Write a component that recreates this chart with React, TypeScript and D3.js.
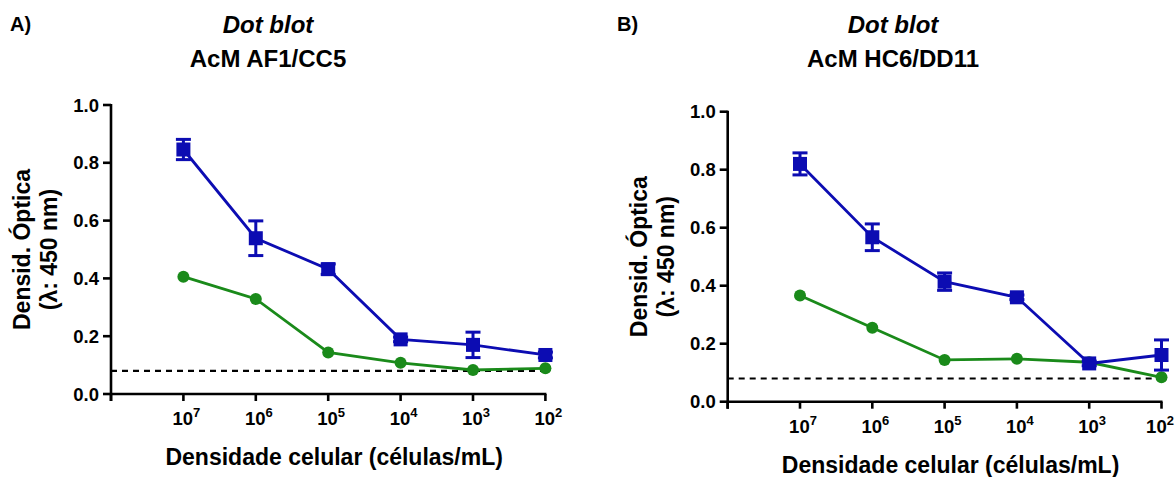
import React from 'react';
import * as d3 from 'd3';

// Cell density dilutions, shown as 10^n on the x axis
const densityExponents = ['7', '6', '5', '4', '3', '2'];
const yTickValues = [0, 0.2, 0.4, 0.6, 0.8, 1.0];

// AcM AF1/CC5
const af1Positive = [0.846, 0.539, 0.432, 0.189, 0.17, 0.135];
const af1PositiveErr = [0.035, 0.06, 0.018, 0.008, 0.044, 0.01];
const af1Negative = [0.406, 0.329, 0.144, 0.108, 0.083, 0.089];
const af1Cutoff = 0.08;

// AcM HC6/DD11
const hc6Positive = [0.82, 0.567, 0.414, 0.36, 0.132, 0.161];
const hc6PositiveErr = [0.038, 0.046, 0.03, 0.008, 0.008, 0.052];
const hc6Negative = [0.366, 0.255, 0.144, 0.148, 0.136, 0.084];
const hc6Cutoff = 0.08;

const FONT = "'Liberation Sans', Arial, Helvetica, sans-serif";
const BLUE = '#0c0cb2';
const GREEN = '#1a8a1a';
const WIDTH = 1176;

type PanelProps = {
  tag: string;
  tagX: number;
  title: string;
  titleX: number;
  left: number;
  top: number;
  bottom: number;
  step: number;
  positive: number[];
  positiveErr: number[];
  negative: number[];
  cutoff: number;
};

function Panel(p: PanelProps) {
  const n = densityExponents.length;
  const x = d3.scaleLinear().domain([0, n]).range([p.left, p.left + p.step * n]);
  const y = d3.scaleLinear().domain([0, 1]).range([p.bottom, p.top]);
  const line = d3
    .line<number>()
    .x((_, i) => x(i + 1))
    .y((d) => y(d));
  const xTicks = d3.range(0, n + 1);
  const mid = (y(0) + y(1)) / 2;
  const sq = 14;
  const cap = 7.5;

  return (
    <g fontFamily={FONT} fontWeight="bold" fill="#000">
      <text x={p.tagX} y={31} fontSize={20}>{p.tag}</text>
      <text x={p.titleX} y={33} fontSize={24} fontStyle="italic" textAnchor="middle">Dot blot</text>
      <text x={p.titleX} y={67} fontSize={24} textAnchor="middle">{p.title}</text>

      {/* cutoff line */}
      <line x1={x(0)} x2={x(n)} y1={y(p.cutoff)} y2={y(p.cutoff)} stroke="#000" strokeWidth={2.2} strokeDasharray="6,5" />

      {/* y axis */}
      <line x1={x(0)} x2={x(0)} y1={y(1) - 1} y2={y(0) + 7} stroke="#000" strokeWidth={2.6} />
      {yTickValues.map((v) => (
        <g key={v}>
          <line x1={x(0) - 8} x2={x(0)} y1={y(v)} y2={y(v)} stroke="#000" strokeWidth={2.6} />
          <text x={x(0) - 12} y={y(v)} dy="0.36em" fontSize={18.5} textAnchor="end">{d3.format('.1f')(v)}</text>
        </g>
      ))}

      {/* x axis */}
      <line x1={x(0)} x2={x(n) + 1} y1={y(0)} y2={y(0)} stroke="#000" strokeWidth={2.6} />
      {xTicks.map((t) => (
        <line key={t} x1={x(t)} x2={x(t)} y1={y(0)} y2={y(0) + 7} stroke="#000" strokeWidth={2.6} />
      ))}
      {densityExponents.map((e, i) => {
        const cx = Math.min(x(i + 1) + 3, WIDTH - 16);
        return (
          <text key={e} x={cx} y={y(0) + 31} fontSize={18.5} textAnchor="middle">
            10<tspan dy={-8} fontSize={13}>{e}</tspan>
          </text>
        );
      })}

      <text x={x(n / 2) + 6} y={y(0) + 71} fontSize={23} textAnchor="middle">Densidade celular (células/mL)</text>

      <g transform={`translate(${x(0) - 81},${mid}) rotate(-90)`}>
        <text x={0} y={0} fontSize={23} textAnchor="middle">Densid. Óptica</text>
        <text x={0} y={27} fontSize={23} textAnchor="middle">(λ: 450 nm)</text>
      </g>

      {/* negative series */}
      <path d={line(p.negative) || ''} fill="none" stroke={GREEN} strokeWidth={2.8} />
      {p.negative.map((v, i) => (
        <circle key={i} cx={x(i + 1)} cy={y(v)} r={6} fill={GREEN} />
      ))}

      {/* positive series with error bars */}
      <path d={line(p.positive) || ''} fill="none" stroke={BLUE} strokeWidth={2.8} />
      {p.positive.map((v, i) => {
        const e = p.positiveErr[i];
        const cx = x(i + 1);
        return (
          <g key={i}>
            <line x1={cx} x2={cx} y1={y(v + e)} y2={y(v - e)} stroke={BLUE} strokeWidth={3} />
            <line x1={cx - cap} x2={cx + cap} y1={y(v + e)} y2={y(v + e)} stroke={BLUE} strokeWidth={3} />
            <line x1={cx - cap} x2={cx + cap} y1={y(v - e)} y2={y(v - e)} stroke={BLUE} strokeWidth={3} />
            <rect x={cx - sq / 2} y={y(v) - sq / 2} width={sq} height={sq} fill={BLUE} />
          </g>
        );
      })}
    </g>
  );
}

export default function App() {
  return (
    <svg
      width={WIDTH}
      height={477}
      viewBox={`0 0 ${WIDTH} 477`}
      style={{ position: 'absolute', left: 0, top: 0, background: '#fff' }}
    >
      <rect width={WIDTH} height={477} fill="#fff" />
      <Panel
        tag="A)"
        tagX={10}
        title="AcM AF1/CC5"
        titleX={268}
        left={111}
        top={105}
        bottom={394}
        step={72.4}
        positive={af1Positive}
        positiveErr={af1PositiveErr}
        negative={af1Negative}
        cutoff={af1Cutoff}
      />
      <Panel
        tag="B)"
        tagX={617}
        title="AcM HC6/DD11"
        titleX={893}
        left={727.7}
        top={111.7}
        bottom={401.7}
        step={72.3}
        positive={hc6Positive}
        positiveErr={hc6PositiveErr}
        negative={hc6Negative}
        cutoff={hc6Cutoff}
      />
    </svg>
  );
}
